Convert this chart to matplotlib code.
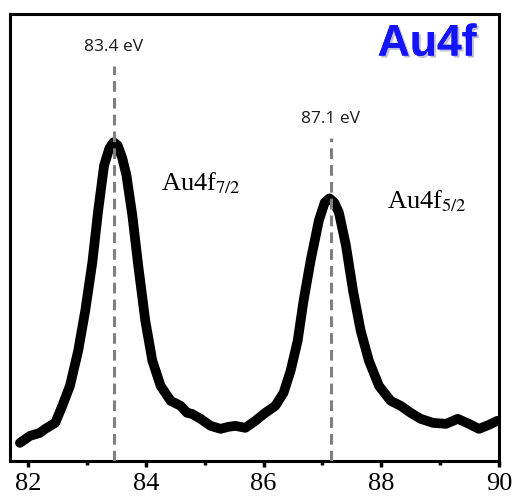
import numpy as np
import matplotlib.pyplot as plt
import matplotlib.patheffects as pe

# binding energy (eV) and intensity (a.u.)
energy = [81.86, 82.03, 82.20, 82.29, 82.46, 82.58, 82.71, 82.85, 82.97, 83.09,
          83.19, 83.29, 83.38, 83.45, 83.52, 83.60, 83.67, 83.77, 83.87, 83.99,
          84.11, 84.25, 84.42, 84.59, 84.70, 84.78, 84.93, 85.10, 85.27, 85.40,
          85.52, 85.69, 85.86, 86.03, 86.20, 86.34, 86.46, 86.58, 86.68, 86.80,
          86.94, 87.04, 87.12, 87.20, 87.28, 87.40, 87.52, 87.65, 87.79, 87.96,
          88.16, 88.33, 88.50, 88.67, 88.88, 89.10, 89.30, 89.49, 89.66, 89.83,
          89.97]
intensity = [18, 25, 28, 32, 38, 55, 75, 110, 150, 198,
             250, 295, 312, 318, 315, 302, 285, 245, 195, 140,
             100, 75, 60, 55, 48, 47, 42, 35, 32, 34,
             35, 33, 40, 48, 55, 68, 90, 120, 160, 200,
             240, 258, 262, 258, 248, 215, 170, 130, 100, 75,
             60, 55, 48, 42, 38, 37, 42, 37, 32, 36,
             40]

peak_pos = [83.45, 87.14]
peak_top = [394, 322]
peak_text = ['83.4 eV', '87.1 eV']

plt.rcParams['mathtext.fontset'] = 'stix'

fig = plt.figure(figsize=(5.23, 5.01), dpi=100)
ax = fig.add_axes([0.019, 0.080, 0.935, 0.892])

ax.plot(energy, intensity, color='black', lw=7, solid_capstyle='round',
        solid_joinstyle='round', zorder=2)

for xp, top, lab in zip(peak_pos, peak_top, peak_text):
    ax.plot([xp, xp], [0, top], color='#808080', lw=2.2, ls=(0, (3.5, 2)), zorder=3)
    ax.text(xp, top + 19, lab, ha='center', va='center', fontsize=12.5,
            family='Open Sans', color='#1a1a1a')

ax.text(84.25, 270, r'Au4f$_{7/2}$', fontsize=19, family='Liberation Serif')
ax.text(88.1, 252, r'Au4f$_{5/2}$', fontsize=19, family='Liberation Serif')
ax.text(88.78, 416, 'Au4f', ha='center', va='center', fontsize=32,
        fontweight='bold', family='Liberation Sans', color='#1414ff',
        path_effects=[pe.withSimplePatchShadow(offset=(1.5, -1.5), alpha=0.25),
                      pe.Normal()])

ax.set_xlim(81.69, 90)
ax.set_ylim(0, 446)
ax.set_xticks([82, 84, 86, 88, 90])
ax.set_xticks([83, 85, 87, 89], minor=True)
ax.set_yticks([])
ax.tick_params(axis='x', which='major', direction='out', length=4, width=2.5,
               labelsize=19, pad=5)
ax.tick_params(axis='x', which='minor', direction='out', length=3, width=2.5)
for lab in ax.get_xticklabels():
    lab.set_family('Liberation Serif')
for s in ax.spines.values():
    s.set_linewidth(2.2)

fig.savefig('out.png', dpi=100)
